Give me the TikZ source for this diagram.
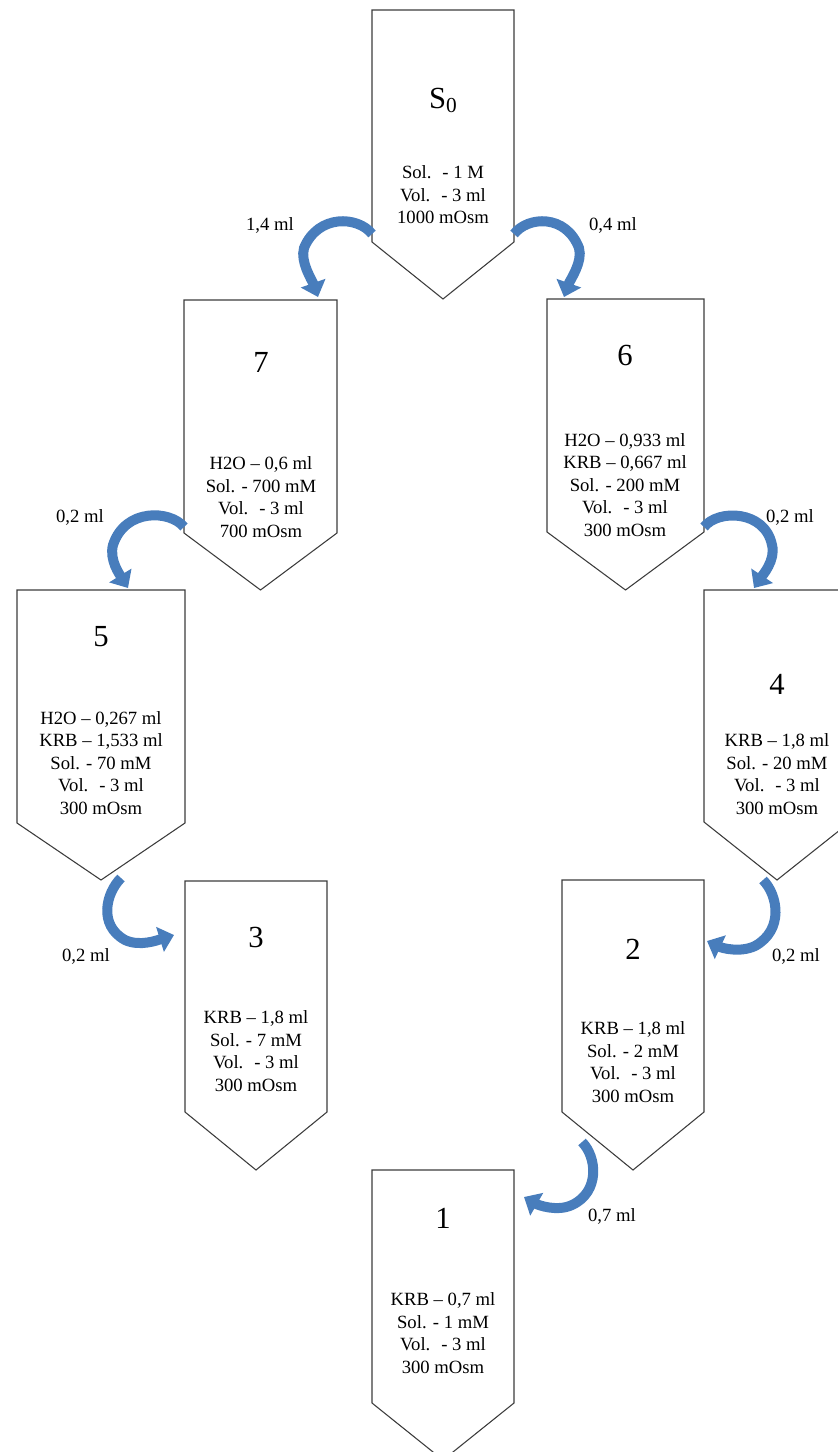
\documentclass[tikz,border=0pt]{standalone}
\usepackage{fontspec}
\setmainfont{Liberation Serif}
\usetikzlibrary{arrows.meta}

\definecolor{flowblue}{RGB}{72,125,188}
\definecolor{tubeline}{RGB}{60,60,60}

\tikzset{
  tube/.style={draw=tubeline, line width=0.8pt, fill=white},
  num/.style={font=\fontsize{23}{27}\selectfont, inner sep=0pt},
  info/.style={font=\fontsize{14}{16.9}\selectfont, align=center, inner sep=0pt},
  vol/.style={font=\fontsize{14}{16.9}\selectfont, inner sep=0pt},
  flow/.style={draw=flowblue, line width=7.5pt, -{Triangle[width=19pt,length=11pt]}}
}

\begin{document}
\begin{tikzpicture}[x=0.75pt, y=-0.75pt]
  \useasboundingbox (0,0) rectangle (838,1452);
  \clip (0,0) rectangle (838,1452);

  % tubes
  \draw[tube] (372,10) -- (514,10) -- (514,242) -- (443,299) -- (372,242) -- cycle;
  \draw[tube] (184,300) -- (337,300) -- (337,533) -- (260.5,590) -- (184,533) -- cycle;
  \draw[tube] (547,299) -- (704,299) -- (704,532) -- (625.5,590) -- (547,532) -- cycle;
  \draw[tube] (17,590) -- (185,590) -- (185,823) -- (101,880) -- (17,823) -- cycle;
  \draw[tube] (704,590) -- (850,590) -- (850,822) -- (777,880) -- (704,822) -- cycle;
  \draw[tube] (185,881) -- (327,881) -- (327,1112) -- (256,1170) -- (185,1112) -- cycle;
  \draw[tube] (562,880) -- (704,880) -- (704,1112) -- (633,1170) -- (562,1112) -- cycle;
  \draw[tube] (372,1170) -- (514,1170) -- (514,1403) -- (443,1460) -- (372,1403) -- cycle;

  % numbers
  \node[num] (n0) at (443,100) {S\raisebox{-3pt}{\fontsize{16}{16}\selectfont 0}};
  \node[num] (n7) at (261,362) {7};
  \node[num] (n6) at (625,355) {6};
  \node[num] (n5) at (101,637) {5};
  \node[num] (n4) at (777,684) {4};
  \node[num] (n3) at (256,937) {3};
  \node[num] (n2) at (633,949) {2};
  \node[num] (n1) at (443,1218) {1};

  % contents
  \node[info] (t0) at (443,195) {Sol. \ - 1 M\\Vol. \ - 3 ml\\1000 mOsm};
  \node[info] (t7) at (261,497) {H2O -- 0,6 ml\\Sol. - 700 mM\\Vol. \ - 3 ml\\700 mOsm};
  \node[info] (t6) at (625,485) {H2O -- 0,933 ml\\KRB -- 0,667 ml\\Sol. - 200 mM\\Vol. \ - 3 ml\\300 mOsm};
  \node[info] (t5) at (101,763) {H2O -- 0,267 ml\\KRB -- 1,533 ml\\Sol. - 70 mM\\Vol. \ - 3 ml\\300 mOsm};
  \node[info] (t4) at (777,774) {KRB -- 1,8 ml\\Sol. - 20 mM\\Vol. \ - 3 ml\\300 mOsm};
  \node[info] (t3) at (256,1051) {KRB -- 1,8 ml\\Sol. - 7 mM\\Vol. \ - 3 ml\\300 mOsm};
  \node[info] (t2) at (633,1062) {KRB -- 1,8 ml\\Sol. - 2 mM\\Vol. \ - 3 ml\\300 mOsm};
  \node[info] (t1) at (443,1333) {KRB -- 0,7 ml\\Sol. - 1 mM\\Vol. \ - 3 ml\\300 mOsm};

  % transfers
  \coordinate (a0w) at (372,234);
  \coordinate (a0e) at (514,234);
  \coordinate (a7w) at (184,527);
  \coordinate (a6e) at (704,527);
  \coordinate (a5b) at (121,878);
  \coordinate (a4b) at (763,880);
  \coordinate (a2b) at (582,1142);
  \coordinate (in7) at (318,297);
  \coordinate (in6) at (564,297);
  \coordinate (in5) at (128,588);
  \coordinate (in4) at (754,588);
  \coordinate (in3) at (174,935);
  \coordinate (in2) at (707,941);
  \coordinate (in1) at (524,1197);

  \draw[flow] (a0w) .. controls (358,216) and (318,214) .. (304,248)
              .. controls (300,262) and (312,280) .. (in7);
  \draw[flow] (a0e) .. controls (528,216) and (566,214) .. (579,248)
              .. controls (583,262) and (570,280) .. (in6);
  \draw[flow] (a7w) .. controls (170,510) and (125,508) .. (113,545)
              .. controls (109,560) and (120,575) .. (in5);
  \draw[flow] (a6e) .. controls (718,509) and (765,510) .. (772,545)
              .. controls (776,560) and (762,576) .. (in4);
  \draw[flow] (a5b) .. controls (106,893) and (98,925) .. (125,940)
              .. controls (140,947) and (158,940) .. (in3);
  \draw[flow] (a4b) .. controls (778,895) and (784,930) .. (755,946)
              .. controls (740,953) and (722,948) .. (in2);
  \draw[flow] (a2b) .. controls (597,1157) and (600,1192) .. (572,1205)
              .. controls (557,1212) and (538,1205) .. (in1);

  % volumes
  \node[vol] (v1) at (270,225) {1,4 ml};
  \node[vol] (v2) at (613,225) {0,4 ml};
  \node[vol] (v3) at (80,517) {0,2 ml};
  \node[vol] (v4) at (790,517) {0,2 ml};
  \node[vol] (v5) at (86,956) {0,2 ml};
  \node[vol] (v6) at (796,956) {0,2 ml};
  \node[vol] (v7) at (612,1216) {0,7 ml};
\end{tikzpicture}
\end{document}
